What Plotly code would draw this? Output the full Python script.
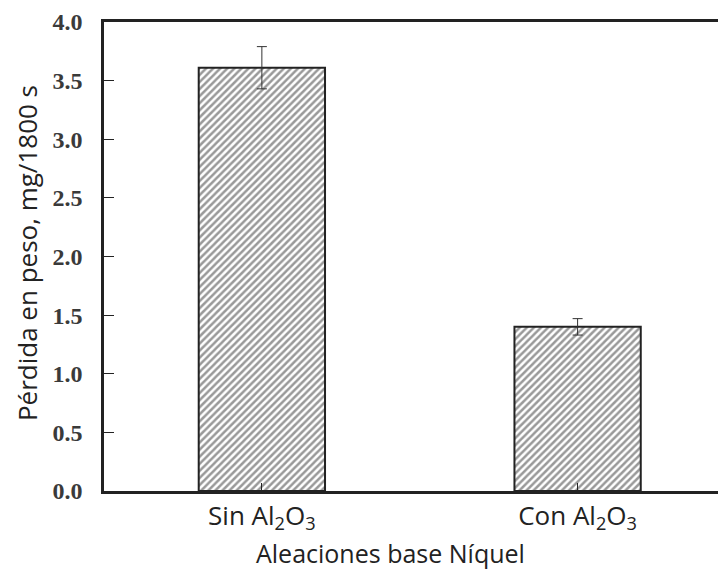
import plotly.graph_objects as go

categories = ["Sin Al<sub>2</sub>O<sub>3</sub>", "Con Al<sub>2</sub>O<sub>3</sub>"]
values = [3.61, 1.40]
errors = [0.18, 0.07]
y_ticks = [0.0, 0.5, 1.0, 1.5, 2.0, 2.5, 3.0, 3.5, 4.0]
x_title = "Aleaciones base Níquel"
y_title = "Pérdida en peso, mg/1800 s"

fig = go.Figure()
fig.add_trace(go.Bar(
    x=[0, 1], y=values, width=0.4,
    marker=dict(color="white", line=dict(color="#222", width=2),
                pattern=dict(shape="/", fgcolor="#333", bgcolor="white", size=5, solidity=0.5)),
    error_y=dict(type="data", array=errors, color="#333", thickness=1, width=5),
))

# page body adds an 8px offset, so the figure is slightly smaller than the window
fig.update_layout(
    width=718, height=563, plot_bgcolor="white", paper_bgcolor="white",
    margin=dict(l=96, r=0, t=14, b=80), showlegend=False,
    xaxis=dict(range=[-0.5, 1.47], tickvals=[0, 1], ticktext=categories,
               showline=True, linecolor="#222", linewidth=2.5, mirror=True,
               ticks="inside", ticklen=8, tickcolor="#222", showgrid=False, zeroline=False,
               automargin=False,
               tickfont=dict(family="Open Sans", size=26, color="#222")),
    yaxis=dict(range=[0, 4.0], tickvals=y_ticks, ticktext=[f"{v:.1f}" for v in y_ticks],
               showline=True, linecolor="#222", linewidth=2.5,
               ticks="inside", ticklen=10, tickcolor="#222", showgrid=False, zeroline=False,
               ticklabelstandoff=14, automargin=False,
               tickfont=dict(family="Liberation Serif", size=24, color="#3a3a3a", weight="bold")),
    annotations=[
        dict(text=x_title, xref="paper", yref="paper", x=0.46, y=-0.133,
             xanchor="center", yanchor="middle", showarrow=False, borderpad=0,
             font=dict(family="Open Sans", size=25, color="#222")),
        dict(text=y_title, xref="paper", yref="paper", x=-0.124, y=0.507, textangle=-90,
             xanchor="center", yanchor="middle", showarrow=False,
             font=dict(family="Open Sans", size=26, color="#222")),
    ],
)

fig.write_html("out.html")
